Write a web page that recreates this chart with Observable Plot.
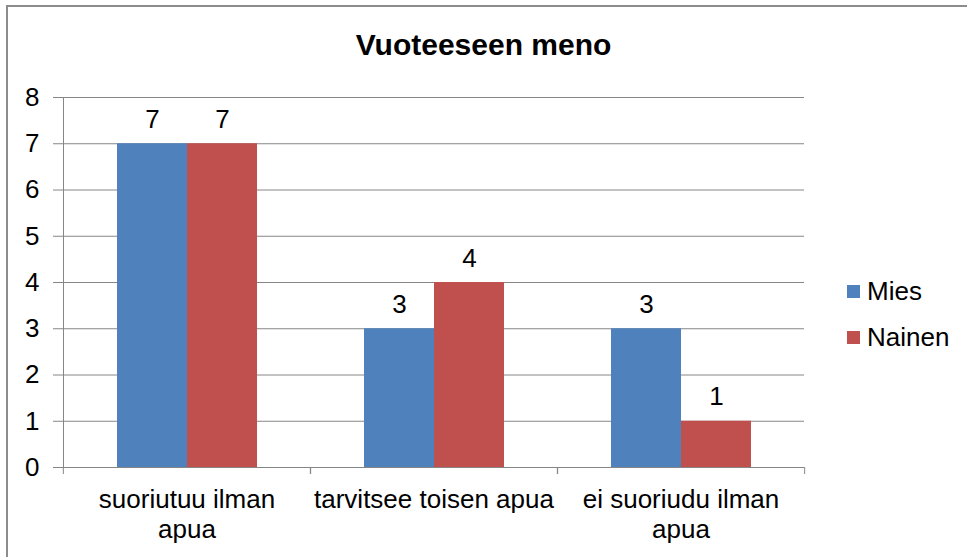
<!DOCTYPE html>
<html>
<head>
<meta charset="utf-8">
<script src="https://cdn.jsdelivr.net/npm/d3@7"></script>
<script src="https://cdn.jsdelivr.net/npm/@observablehq/plot@0.6"></script>
<style>
  body { margin: 0; background: #fff; font-family: "Liberation Sans", Arial, sans-serif; color: #000; }
  #wrap { position: relative; width: 967px; height: 557px; overflow: hidden; background: #fff; }
  #frame { position: absolute; left: 6px; top: 5px; right: -10px; bottom: -10px;
           border-top: 2px solid #8c8c8c; border-left: 2px solid #8c8c8c; }
  #title { position: absolute; left: 0; width: 967px; top: 30px; text-align: center;
           font-weight: bold; font-size: 30px; line-height: 30px; }
  #legend { position: absolute; left: 847px; top: 268px; font-size: 26px; }
  .item { display: flex; align-items: center; height: 46px; }
  .sw { width: 13px; height: 13px; margin-right: 7px; }
  #chart svg { position: absolute; left: 0; top: 0; }
</style>
</head>
<body>
<div id="wrap">
  <div id="frame"></div>
  <div id="chart"></div>
  <div id="title"></div>
  <div id="legend"></div>
</div>
<script>
const titleText = "Vuoteeseen meno";
const categories = ["suoriutuu ilman apua", "tarvitsee toisen apua", "ei suoriudu ilman apua"];
const categoryLabels = ["suoriutuu ilman\napua", "tarvitsee toisen apua", "ei suoriudu ilman\napua"];
const series = ["Mies", "Nainen"];
const miesValues = [7, 3, 3];
const nainenValues = [7, 4, 1];
const seriesColors = ["#4F81BD", "#C0504D"];
const yTicks = [0, 1, 2, 3, 4, 5, 6, 7, 8];

const data = categories.flatMap((c, i) => [
  {category: c, series: series[0], value: miesValues[i]},
  {category: c, series: series[1], value: nainenValues[i]}
]);

const W = 967, H = 557, mL = 62, mR = 163, mT = 97, mB = 90;
const band = (W - mL - mR) / categories.length;
const gray = "#868686";
const font = "'Liberation Sans', Arial, sans-serif";

document.getElementById("title").textContent = titleText;

const chart = Plot.plot({
  width: W, height: H,
  marginLeft: mL, marginRight: mR, marginTop: mT, marginBottom: mB,
  style: {fontFamily: font, fontSize: "26px", color: "#000", background: "transparent", overflow: "visible"},
  fx: {domain: categories, padding: 0},
  x: {domain: series, paddingInner: 0, paddingOuter: 0.754, axis: null},
  y: {domain: [0, 8]},
  color: {domain: series, range: seriesColors},
  marks: [
    Plot.gridY(yTicks, {stroke: gray, strokeOpacity: 1, strokeWidth: 1}),
    Plot.axisY(yTicks, {tickSize: 10, tickPadding: 14, stroke: gray, fill: "#000", label: null}),
    Plot.frame({anchor: "left", facetAnchor: "left", stroke: gray}),
    Plot.barY(data, {fx: "category", x: "series", y: "value", fill: "series"}),
    Plot.text(data, {fx: "category", x: "series", y: "value", text: d => String(d.value),
                     lineAnchor: "bottom", dy: -16, fill: "#000"}),
    Plot.axisFx({anchor: "bottom", tickSize: 0, tickPadding: 19, lineHeight: 1.15,
                 tickFormat: d => categoryLabels[categories.indexOf(d)], fill: "#000", label: null}),
    Plot.axisFx({anchor: "bottom", tickSize: 7, stroke: gray, fill: "none", label: null, dx: -band / 2}),
    Plot.axisFx({anchor: "bottom", tickSize: 7, stroke: gray, fill: "none", label: null, dx: band / 2})
  ]
});
document.getElementById("chart").appendChild(chart);

const legend = document.getElementById("legend");
series.forEach((s, i) => {
  const item = document.createElement("div");
  item.className = "item";
  const sw = document.createElement("div");
  sw.className = "sw";
  sw.style.background = seriesColors[i];
  const label = document.createElement("span");
  label.textContent = s;
  item.appendChild(sw);
  item.appendChild(label);
  legend.appendChild(item);
});
</script>
</body>
</html>
